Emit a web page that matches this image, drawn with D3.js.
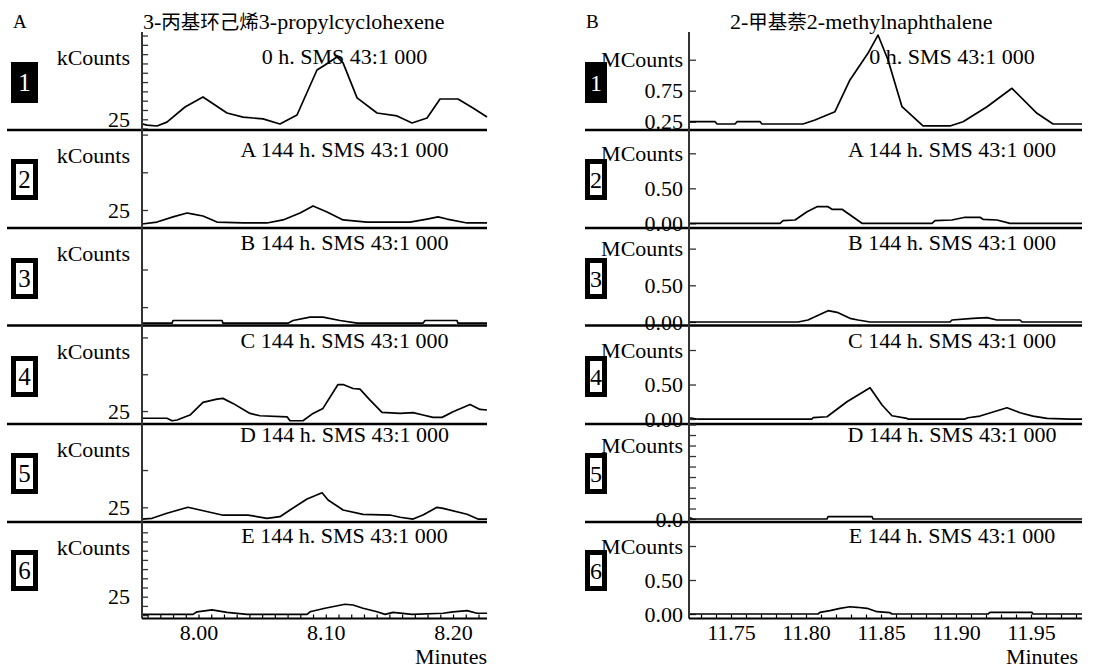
<!DOCTYPE html>
<html>
<head>
<meta charset="utf-8">
<script src="https://cdn.jsdelivr.net/npm/d3@7"></script>
<style>
  html, body { margin: 0; padding: 0; background: #fff; }
  svg { display: block; }
  svg text { font-family: "Liberation Serif", "Times New Roman", "DejaVu Serif", serif; }
  svg text .cjk { font-family: "Noto Sans CJK SC", "Noto Sans CJK JP", sans-serif; }
</style>
</head>
<body>
<svg id="chart" width="1096" height="669"></svg>
<script>
// ---- Panel A: 3-propylcyclohexene, retention time (min) / signal (kCounts) ----
const rtA1 = [7.9556,7.9595,7.9674,7.9752,7.9894,8.0035,8.0224,8.0350,8.0507,8.0640,8.0774,8.0931,8.0994,8.1088,8.1136,8.1246,8.1403,8.1560,8.1678,8.1796,8.1898,8.2039,8.2157,8.2267];
const kA1  = [22.5,21.9,21.4,23.5,31.6,37.0,28.4,26.2,25.2,22.5,27.3,51.5,54.2,58.5,55.3,36.5,28.4,26.8,23.0,25.7,35.9,35.9,31.1,26.2];
const rtA2 = [7.9556,7.9674,7.9800,7.9910,7.9957,8.0035,8.0145,8.0350,8.0538,8.0664,8.0798,8.0900,8.1010,8.1136,8.1324,8.1662,8.1796,8.1882,8.1953,8.2110,8.2267];
const kA2  = [15.7,17.0,20.4,23.0,22.3,21.0,17.0,16.4,16.4,18.4,23.0,27.7,23.7,18.4,17.0,17.0,19.0,20.4,19.0,16.4,16.4];
const rtA3 = [7.9556,7.9792,7.9800,8.0185,8.0192,8.0703,8.0743,8.0876,8.0978,8.1112,8.1246,8.1764,8.1780,8.2031,8.2039,8.2267];
const kA3  = [14.3,14.3,16.1,16.1,14.3,14.3,16.1,18.3,18.3,16.1,14.3,14.3,16.1,16.1,14.3,14.3];
const rtA4 = [7.9556,7.9752,7.9792,7.9831,7.9933,8.0035,8.0145,8.0192,8.0271,8.0405,8.0483,8.0696,8.0719,8.0821,8.0900,8.0978,8.1096,8.1136,8.1214,8.1269,8.1348,8.1442,8.1584,8.1686,8.1764,8.1843,8.1914,8.2000,8.2134,8.2212,8.2267];
const kA4  = [20.1,20.1,18.4,18.9,22.3,30.9,33.1,33.6,30.2,23.4,21.8,21.1,18.4,18.4,23.4,26.8,43.0,43.0,40.3,39.9,32.4,24.1,23.4,23.9,22.3,20.7,20.7,24.5,29.5,26.1,25.7];
const rtA5 = [7.9556,7.9635,7.9752,7.9917,8.0012,8.0185,8.0389,8.0538,8.0640,8.0719,8.0853,8.0971,8.1018,8.1136,8.1293,8.1505,8.1584,8.1686,8.1764,8.1874,8.1922,8.2110,8.2196,8.2267];
const kA5  = [17.1,17.6,21.0,25.0,23.2,19.8,19.8,17.6,18.7,23.2,30.6,34.8,29.9,23.2,20.3,19.8,18.3,17.1,19.8,25.0,24.3,20.3,17.1,17.1];
const rtA6 = [7.9556,7.9957,7.9988,8.0106,8.0224,8.0381,8.0853,8.0876,8.0994,8.1151,8.1214,8.1293,8.1403,8.1466,8.1529,8.1678,8.1922,8.2000,8.2110,8.2189,8.2267];
const kA6  = [15.4,15.4,16.8,17.8,16.5,15.4,15.4,16.8,18.7,20.9,20.5,18.7,16.8,15.4,16.5,15.4,16.0,16.8,17.4,16.0,16.0];

// ---- Panel B: 2-methylnaphthalene, retention time (min) / signal (MCounts) ----
const rtB1 = [11.7220,11.7393,11.7407,11.7527,11.7540,11.7693,11.7707,11.7980,11.8060,11.8193,11.8293,11.8413,11.8480,11.8547,11.8640,11.8780,11.8960,11.9047,11.9207,11.9373,11.9540,11.9647,11.9840];
const mB1  = [0.25,0.25,0.213,0.213,0.25,0.25,0.213,0.213,0.277,0.411,0.923,1.353,1.648,1.245,0.492,0.181,0.181,0.25,0.492,0.789,0.385,0.213,0.213];
const rtB2 = [11.7220,11.7827,11.7847,11.7927,11.8007,11.8073,11.8147,11.8173,11.8240,11.8373,11.8840,11.8860,11.8973,11.9060,11.9160,11.9180,11.9273,11.9360,11.9840];
const mB2  = [0,0,0.037,0.047,0.166,0.237,0.237,0.2,0.2,0,0,0.037,0.047,0.086,0.086,0.057,0.047,0,0];
const rtB3 = [11.7220,11.7947,11.8013,11.8147,11.8207,11.8293,11.8347,11.8427,11.8960,11.8973,11.9113,11.9207,11.9273,11.9427,11.9440,11.9840];
const mB3  = [0,0,0.027,0.154,0.132,0.05,0.027,0,0,0.027,0.05,0.059,0.027,0.027,0,0];
const rtB4 = [11.7220,11.7273,11.8040,11.8047,11.8140,11.8273,11.8427,11.8507,11.8573,11.8673,11.8680,11.9060,11.9080,11.9160,11.9340,11.9427,11.9513,11.9607,11.9760,11.9840];
const mB4  = [0.019,0,0,0.019,0.033,0.25,0.454,0.203,0.048,0.01,0,0,0.019,0.043,0.164,0.091,0.043,0.01,0,0];
const rtB5 = [11.7220,11.7247,11.8140,11.8147,11.8440,11.8447,11.9840];
const mB5  = [0.03,0,0,0.045,0.045,0,0];
const rtB6 = [11.7220,11.8080,11.8093,11.8160,11.8227,11.8293,11.8340,11.8407,11.8473,11.8560,11.8573,11.9213,11.9227,11.9507,11.9513,11.9840];
const mB6  = [0,0,0.025,0.049,0.084,0.107,0.099,0.084,0.034,0.019,0,0,0.025,0.025,0,0];

// ---- labels ----
const sampleTitles = ["0 h. SMS 43:1 000","A 144 h. SMS 43:1 000","B 144 h. SMS 43:1 000",
                      "C 144 h. SMS 43:1 000","D 144 h. SMS 43:1 000","E 144 h. SMS 43:1 000"];
const traceNumbers = ["1","2","3","4","5","6"];
const timeLabelsA = [8.00, 8.10, 8.20];
const timeLabelsB = [11.75, 11.80, 11.85, 11.90, 11.95];

// ---- layout ----
const rowTop = [32, 130, 228, 325.5, 424, 522];
const rowBot = [130, 228, 325.5, 424, 522, 618.5];
const titleBase = [64, 157, 250, 348, 442, 543];
const boxTop = [62, 159, 258, 356, 453, 550];
const AXIS_Y = 618.5;

const range5 = (a, b) => d3.range(a, b + 1, 5);

const panels = [
  {
    letter: "A", letterX: 13,
    head: ["3-", "丙基环己烯", "3-propylcyclohexene"], headX: 143,
    ax: 142, right: 487, sepL: 7, tick: 6, pad: 12, titleCx: 344.5,
    box: { x: 11, w: 27, fs: 25 },
    xDomain: [7.9556, 8.2267], xLabels: timeLabelsA,
    minor: d3.range(796, 823).map(d => d / 100), minutesX: 487,
    unit: "kCounts",
    rows: [
      { rt: rtA1, v: kA1, domain: [19.25, 71.9], ticks: range5(20, 70), labels: [[25, "25"]] },
      { rt: rtA2, v: kA2, domain: [13.06, 78.05], ticks: [25, 50, 75], labels: [[25, "25"]] },
      { rt: rtA3, v: kA3, domain: [12.77, 77.6], ticks: [25, 50], labels: [] },
      { rt: rtA4, v: kA4, domain: [16.2, 83.1], ticks: [25, 50, 75], labels: [[25, "25"]] },
      { rt: rtA5, v: kA5, domain: [15.13, 80.9], ticks: [25, 50], labels: [[25, "25"]] },
      { rt: rtA6, v: kA6, domain: [13.15, 65.6], ticks: range5(15, 60), labels: [[25, "25"]] }
    ]
  },
  {
    letter: "B", letterX: 586,
    head: ["2-", "甲基萘", "2-methylnaphthalene"], headX: 730,
    ax: 689, right: 1082, sepL: 585, tick: 7, pad: 6, titleCx: 952,
    box: { x: 585, w: 22, fs: 24 },
    xDomain: [11.722, 11.984], xLabels: timeLabelsB,
    minor: d3.range(1173, 1199).map(d => d / 100), minutesX: 1078,
    unit: null,
    rows: [
      { rt: rtB1, v: mB1, domain: [0.116, 1.697], ticks: [0.25, 0.75, 1.25], labels: [[0.25, "0.25"], [0.75, "0.75"], [1.25, "MCounts"]] },
      { rt: rtB2, v: mB2, domain: [-0.067, 1.333], ticks: [0, 0.5, 1], labels: [[0, "0.00"], [0.5, "0.50"], [1, "MCounts"]] },
      { rt: rtB3, v: mB3, domain: [-0.048, 1.281], ticks: [0, 0.5, 1], labels: [[0, "0.00"], [0.5, "0.50"], [1, "MCounts"]] },
      { rt: rtB4, v: mB4, domain: [-0.072, 1.355], ticks: [0, 0.5, 1], labels: [[0, "0.00"], [0.5, "0.50"], [1, "MCounts"]] },
      { rt: rtB5, v: mB5, domain: [-0.057, 1.81], ticks: d3.range(0, 10).map(d => d / 5), labels: [[0, "0.0"], [1.4, "MCounts"]] },
      { rt: rtB6, v: mB6, domain: [-0.066, 1.353], ticks: [0, 0.5, 1], labels: [[0, "0.00"], [0.5, "0.50"], [1, "MCounts"]] }
    ]
  }
];

const svg = d3.select("#chart");
svg.append("rect").attr("width", 1096).attr("height", 669).attr("fill", "#fff");

panels.forEach(P => {
  const g = svg.append("g");
  const x = d3.scaleLinear().domain(P.xDomain).range([P.ax, P.right]);

  // panel letter and compound name
  g.append("text").attr("x", P.letterX).attr("y", 28)
    .attr("font-size", 19).text(P.letter);
  const head = g.append("text").attr("x", P.headX).attr("y", 29)
    .attr("font-size", 22);
  head.append("tspan").text(P.head[0]);
  head.append("tspan").attr("class", "cjk").attr("font-size", 19.5).text(P.head[1]);
  head.append("tspan").text(P.head[2]);

  P.rows.forEach((row, i) => {
    const y = d3.scaleLinear().domain(row.domain).range([rowBot[i], rowTop[i]]);

    // y ticks drawn inside the plot, labels to the left
    const yAxis = d3.axisLeft(y)
      .tickValues(row.ticks)
      .tickSizeInner(-P.tick).tickSizeOuter(0)
      .tickPadding(P.pad)
      .tickFormat(v => {
        const m = row.labels.find(l => Math.abs(l[0] - v) < 1e-9);
        return m ? m[1] : "";
      });
    const ya = g.append("g").attr("transform", `translate(${P.ax},0)`).call(yAxis);
    ya.select(".domain").remove();
    ya.attr("font-size", 22);
    ya.selectAll(".tick line").attr("stroke", "#333").attr("stroke-width", 1.3);
    ya.selectAll(".tick text").attr("fill", "#000");

    if (P.unit) {
      g.append("text").attr("x", 130).attr("y", rowTop[i] + 33)
        .attr("text-anchor", "end").attr("font-size", 22)
        .text(P.unit);
    }

    // sample title
    g.append("text").attr("x", P.titleCx).attr("y", titleBase[i])
      .attr("text-anchor", "middle").attr("font-size", 22)
      .text(sampleTitles[i]);

    // trace number box
    const bw = 5, bt = boxTop[i], bh = 41;
    const filled = i === 0;
    g.append("rect")
      .attr("x", P.box.x + bw / 2).attr("y", bt + bw / 2)
      .attr("width", P.box.w - bw).attr("height", bh - bw)
      .attr("fill", filled ? "#000" : "#fff")
      .attr("stroke", "#000").attr("stroke-width", bw);
    g.append("text")
      .attr("x", P.box.x + P.box.w / 2).attr("y", bt + 29)
      .attr("text-anchor", "middle").attr("font-size", P.box.fs)
      .attr("fill", filled ? "#fff" : "#000")
      .text(traceNumbers[i]);

    // chromatogram trace
    const pts = row.rt.map((t, k) => [t, row.v[k]]);
    g.append("path").datum(pts)
      .attr("fill", "none").attr("stroke", "#000").attr("stroke-width", 1.7)
      .attr("stroke-linejoin", "round")
      .attr("d", d3.line().x(d => x(d[0])).y(d => y(d[1])));

    // row separator
    if (i < P.rows.length - 1) {
      g.append("line")
        .attr("x1", P.sepL).attr("x2", P.right)
        .attr("y1", rowBot[i]).attr("y2", rowBot[i])
        .attr("stroke", "#000").attr("stroke-width", 2.5);
    }
  });

  // vertical axis line
  g.append("line").attr("x1", P.ax).attr("x2", P.ax)
    .attr("y1", rowTop[0]).attr("y2", AXIS_Y)
    .attr("stroke", "#333").attr("stroke-width", 2);

  // time axis: minor ticks and labels
  const minorAxis = g.append("g").attr("transform", `translate(0,${AXIS_Y})`)
    .call(d3.axisBottom(x).tickValues(P.minor).tickSizeInner(-4).tickSizeOuter(0).tickFormat(""));
  minorAxis.select(".domain").remove();
  minorAxis.selectAll(".tick line").attr("stroke", "#000").attr("stroke-width", 1.2);

  const labelAxis = g.append("g").attr("transform", `translate(0,${AXIS_Y})`)
    .call(d3.axisBottom(x).tickValues(P.xLabels).tickSize(0).tickPadding(5.5).tickFormat(d3.format(".2f")));
  labelAxis.select(".domain").remove();
  labelAxis.attr("font-size", 22);
  labelAxis.selectAll(".tick text").attr("fill", "#000");

  g.append("line").attr("x1", P.ax).attr("x2", P.right)
    .attr("y1", AXIS_Y).attr("y2", AXIS_Y)
    .attr("stroke", "#000").attr("stroke-width", 2);

  g.append("text").attr("x", P.minutesX).attr("y", 664)
    .attr("text-anchor", "end").attr("font-size", 22)
    .text("Minutes");
});
</script>
</body>
</html>
